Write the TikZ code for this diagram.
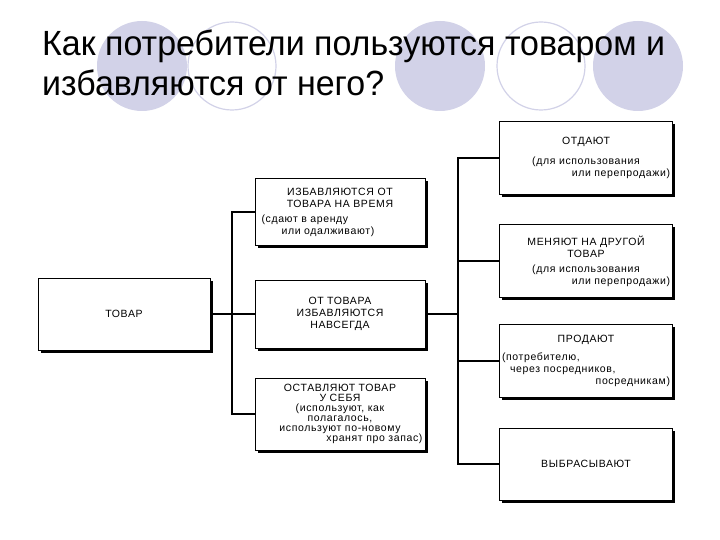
\documentclass[tikz,border=0pt]{standalone}
\usepackage{fontspec}
\setmainfont{Liberation Sans}[LetterSpace=6]
\newfontfamily\titfont[FakeStretch=0.97]{Liberation Sans}
\usetikzlibrary{shadows}
\definecolor{circ}{RGB}{210,210,232}
\begin{document}
\begin{tikzpicture}[x=1pt,y=-1pt,
  bx/.style={draw,line width=1pt,fill=white,inner sep=2pt,align=center,font=\fontsize{10.5}{12}\selectfont,
    drop shadow={opacity=1,fill=black,shadow xshift=2.5pt,shadow yshift=-2.5pt}},
  ln/.style={line width=1.3pt}]
\useasboundingbox (0,0) rectangle (720,540);
\fill[white] (0,0) rectangle (720,540);
\foreach \cx in {142,440,638}{\fill[circ] (\cx,66) ellipse (45 and 45);}
\foreach \cx in {232,541}{\draw[circ,line width=1.2pt] (\cx,66) ellipse (44 and 44);}
\node[anchor=north west,align=left,inner sep=0pt,font=\titfont\fontsize{35}{40}\selectfont] (title) at (42,30) {Как потребители пользуются товаром и\\избавляются от него?};
% boxes
\node[bx,minimum width=172,minimum height=72] (tov) at (124,314) {ТОВАР};
\node[bx,minimum width=170,minimum height=67,text width=165] (m1) at (340,212) {ИЗБАВЛЯЮТСЯ ОТ\\ТОВАРА НА ВРЕМЯ\\[3pt]\hspace*{4pt}(сдают в аренду\hfill\mbox{}\\\hspace*{24pt}или одалживают)\hfill\mbox{}};
\node[bx,minimum width=170,minimum height=68,text width=165] (m2) at (340,314) {ОТ ТОВАРА\\ИЗБАВЛЯЮТСЯ\\НАВСЕГДА\\[8pt]};
\node[bx,minimum width=170,minimum height=72,text width=165,font=\fontsize{10.5}{10}\selectfont] (m3) at (340,414) {ОСТАВЛЯЮТ ТОВАР\\У СЕБЯ\\(используют, как\\полагалось,\\используют по-новому\\\hfill хранят про запас)};
\node[bx,minimum width=173,minimum height=73,text width=168] (r1) at (586,158) {ОТДАЮТ\\[8pt](для использования\\\hfill или перепродажи)};
\node[bx,minimum width=173,minimum height=72,text width=168] (r2) at (586,261) {МЕНЯЮТ НА ДРУГОЙ\\ТОВАР\\[3pt](для использования\\\hfill или перепродажи)};
\node[bx,minimum width=173,minimum height=73,text width=168] (r3) at (586,361) {ПРОДАЮТ\\[6pt](потребителю,\hfill\mbox{}\\\hspace*{8pt}через посредников,\hfill\mbox{}\\\hfill посредникам)};
\node[bx,minimum width=173,minimum height=72] (r4) at (586,464) {ВЫБРАСЫВАЮТ};
% connectors
\coordinate (j1) at (232,314);
\coordinate (j2) at (458,314);
\draw[ln] (tov.east) -- (j1);
\draw[ln] (m1.west) -| (j1) |- (m3.west);
\draw[ln] (j1) -- (m2.west);
\draw[ln] (m2.east) -- (j2);
\draw[ln] (r1.west) -| (j2) |- (r4.west);
\draw[ln] (r2.west) -| (j2);
\draw[ln] (r3.west) -| (j2);
\end{tikzpicture}
\end{document}
